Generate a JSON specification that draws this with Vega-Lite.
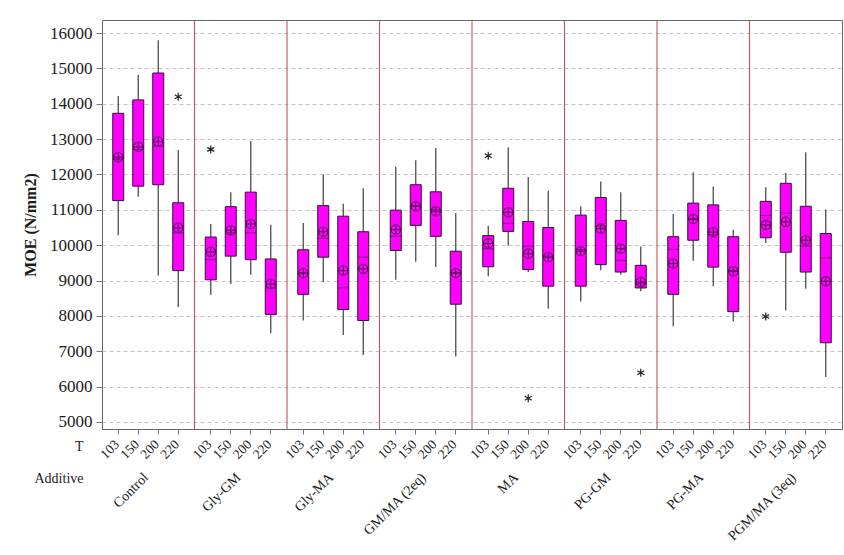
{
  "$schema": "https://vega.github.io/schema/vega-lite/v6.json",
  "width": 740,
  "height": 409,
  "autosize": "none",
  "padding": {"left": 102, "top": 20, "right": 2, "bottom": 126},
  "background": "white",
  "config": {
    "view": {"stroke": "#666666", "strokeWidth": 1},
    "font": "Liberation Serif",
    "axis": {"labelFont": "Liberation Serif", "titleFont": "Liberation Serif", "labelColor": "#1a1a1a", "titleColor": "#1a1a1a"}
  },
  "data": {"values": [
    {"Additive": "Control", "T": 103, "min": 10280, "q1": 11260, "median": 12430, "q3": 13730, "max": 14220, "mean": 12490},
    {"Additive": "Control", "T": 150, "min": 11370, "q1": 11670, "median": 12710, "q3": 14110, "max": 14820, "mean": 12780},
    {"Additive": "Control", "T": 200, "min": 9140, "q1": 11710, "median": 12800, "q3": 14870, "max": 15800, "mean": 12930},
    {"Additive": "Control", "T": 220, "min": 8250, "q1": 9280, "median": 10350, "q3": 11200, "max": 12690, "mean": 10490, "outlier": 14200},
    {"Additive": "Gly-GM", "T": 103, "min": 8600, "q1": 9020, "median": 9590, "q3": 10230, "max": 10600, "mean": 9810, "outlier": 12710},
    {"Additive": "Gly-GM", "T": 150, "min": 8900, "q1": 9690, "median": 10350, "q3": 11090, "max": 11500, "mean": 10420},
    {"Additive": "Gly-GM", "T": 200, "min": 9160, "q1": 9590, "median": 10350, "q3": 11500, "max": 12950, "mean": 10600},
    {"Additive": "Gly-GM", "T": 220, "min": 7510, "q1": 8040, "median": 8790, "q3": 9610, "max": 10580, "mean": 8900},
    {"Additive": "Gly-MA", "T": 103, "min": 7870, "q1": 8610, "median": 9210, "q3": 9870, "max": 10630, "mean": 9210},
    {"Additive": "Gly-MA", "T": 150, "min": 8950, "q1": 9660, "median": 10200, "q3": 11120, "max": 12000, "mean": 10380},
    {"Additive": "Gly-MA", "T": 200, "min": 7460, "q1": 8180, "median": 8790, "q3": 10820, "max": 11170, "mean": 9280},
    {"Additive": "Gly-MA", "T": 220, "min": 6890, "q1": 7870, "median": 9660, "q3": 10380, "max": 11610, "mean": 9330},
    {"Additive": "GM/MA (2eq)", "T": 103, "min": 9020, "q1": 9850, "median": 10250, "q3": 10990, "max": 12220, "mean": 10440},
    {"Additive": "GM/MA (2eq)", "T": 150, "min": 9530, "q1": 10560, "median": 11120, "q3": 11710, "max": 12400, "mean": 11100},
    {"Additive": "GM/MA (2eq)", "T": 200, "min": 9380, "q1": 10250, "median": 11000, "q3": 11510, "max": 12750, "mean": 10960},
    {"Additive": "GM/MA (2eq)", "T": 220, "min": 6850, "q1": 8330, "median": 9220, "q3": 9830, "max": 10910, "mean": 9210},
    {"Additive": "MA", "T": 103, "min": 9120, "q1": 9390, "median": 9900, "q3": 10270, "max": 10550, "mean": 10050, "outlier": 12530},
    {"Additive": "MA", "T": 150, "min": 9990, "q1": 10390, "median": 10610, "q3": 11610, "max": 12770, "mean": 10930},
    {"Additive": "MA", "T": 200, "min": 9240, "q1": 9310, "median": 9970, "q3": 10670, "max": 11930, "mean": 9760, "outlier": 5670},
    {"Additive": "MA", "T": 220, "min": 8200, "q1": 8840, "median": 9690, "q3": 10500, "max": 11540, "mean": 9660},
    {"Additive": "PG-GM", "T": 103, "min": 8410, "q1": 8840, "median": 9880, "q3": 10850, "max": 11100, "mean": 9830},
    {"Additive": "PG-GM", "T": 150, "min": 9290, "q1": 9450, "median": 10540, "q3": 11350, "max": 11800, "mean": 10470},
    {"Additive": "PG-GM", "T": 200, "min": 9170, "q1": 9240, "median": 9570, "q3": 10700, "max": 11500, "mean": 9900},
    {"Additive": "PG-GM", "T": 220, "min": 8700, "q1": 8790, "median": 8910, "q3": 9430, "max": 9960, "mean": 8960, "outlier": 6390},
    {"Additive": "PG-MA", "T": 103, "min": 7710, "q1": 8610, "median": 9880, "q3": 10240, "max": 10880, "mean": 9480},
    {"Additive": "PG-MA", "T": 150, "min": 9560, "q1": 10140, "median": 10740, "q3": 11190, "max": 12060, "mean": 10740},
    {"Additive": "PG-MA", "T": 200, "min": 8840, "q1": 9380, "median": 10300, "q3": 11140, "max": 11660, "mean": 10370},
    {"Additive": "PG-MA", "T": 220, "min": 7840, "q1": 8120, "median": 9280, "q3": 10240, "max": 10440, "mean": 9260},
    {"Additive": "PGM/MA (3eq)", "T": 103, "min": 10060, "q1": 10210, "median": 10840, "q3": 11240, "max": 11640, "mean": 10570, "outlier": 7980},
    {"Additive": "PGM/MA (3eq)", "T": 150, "min": 8150, "q1": 9800, "median": 10910, "q3": 11750, "max": 12040, "mean": 10660},
    {"Additive": "PGM/MA (3eq)", "T": 200, "min": 8770, "q1": 9240, "median": 9970, "q3": 11100, "max": 12630, "mean": 10140},
    {"Additive": "PGM/MA (3eq)", "T": 220, "min": 6270, "q1": 7240, "median": 9640, "q3": 10330, "max": 11010, "mean": 8980}
  ]},
  "layer": [
    {
      "mark": {"type": "rule", "color": "#4d4d4d", "strokeWidth": 1.3},
      "encoding": {
        "x": {"field": "Additive", "type": "nominal",
          "sort": ["Control", "Gly-GM", "Gly-MA", "GM/MA (2eq)", "MA", "PG-GM", "PG-MA", "PGM/MA (3eq)"],
          "scale": {"paddingInner": 0, "paddingOuter": 0},
          "axis": {"orient": "bottom", "bandPosition": 0.39189, "labelOffset": -11, "labelExpr": "'150'", "title": null, "labelAngle": -45, "labelAlign": "right", "labelBaseline": "middle", "labelFont": "Liberation Serif", "labelFontSize": 13.5, "labelColor": "#1a1a1a", "labelPadding": 8, "labelOverlap": false, "tickSize": 5, "tickColor": "#777777", "domain": false, "grid": false}},
        "xOffset": {"field": "T", "type": "ordinal", "scale": {"paddingInner": 0.45, "paddingOuter": 0.5375}},
        "y": {"field": "min", "type": "quantitative",
          "scale": {"domain": [4800, 16370], "nice": false, "zero": false},
          "axis": {"title": "MOE (N/mm2)", "values": [5000, 6000, 7000, 8000, 9000, 10000, 11000, 12000, 13000, 14000, 15000, 16000], "format": "d", "grid": true, "gridDash": [4, 3], "gridColor": "#c4c4c4", "gridWidth": 1, "domain": false, "tickSize": 6, "tickColor": "#777777", "labelFont": "Liberation Serif", "labelFontSize": 17, "labelColor": "#1a1a1a", "labelPadding": 4, "labelOverlap": false, "titleFont": "Liberation Serif", "titleFontSize": 16, "titleFontWeight": "bold", "titleColor": "#1a1a1a", "titlePadding": 11}},
        "y2": {"field": "max"}
      }
    },
    {
      "mark": {"type": "bar", "fill": "#ff00ff", "stroke": "#3d0a3d", "strokeWidth": 1},
      "encoding": {
        "x": {"field": "Additive", "type": "nominal",
          "sort": ["Control", "Gly-GM", "Gly-MA", "GM/MA (2eq)", "MA", "PG-GM", "PG-MA", "PGM/MA (3eq)"],
          "axis": {"orient": "bottom", "bandPosition": 0.60811, "labelOffset": 9, "labelExpr": "'200'", "title": null, "labelAngle": -45, "labelAlign": "right", "labelBaseline": "middle", "labelFont": "Liberation Serif", "labelFontSize": 13.5, "labelColor": "#1a1a1a", "labelPadding": 8, "labelOverlap": false, "tickSize": 5, "tickColor": "#777777", "domain": false, "grid": false}},
        "xOffset": {"field": "T", "type": "ordinal"},
        "y": {"field": "q1", "type": "quantitative",
          "axis": {"title": "MOE (N/mm2)", "values": [5000, 6000, 7000, 8000, 9000, 10000, 11000, 12000, 13000, 14000, 15000, 16000], "format": "d", "grid": true, "gridDash": [4, 3], "gridColor": "#c4c4c4", "gridWidth": 1, "domain": false, "tickSize": 6, "tickColor": "#777777", "labelFont": "Liberation Serif", "labelFontSize": 17, "labelColor": "#1a1a1a", "labelPadding": 4, "labelOverlap": false, "titleFont": "Liberation Serif", "titleFontSize": 16, "titleFontWeight": "bold", "titleColor": "#1a1a1a", "titlePadding": 11}},
        "y2": {"field": "q3"}
      }
    },
    {
      "mark": {"type": "tick", "color": "#4a0d4a", "thickness": 1, "size": 11},
      "encoding": {
        "x": {"field": "Additive", "type": "nominal",
          "sort": ["Control", "Gly-GM", "Gly-MA", "GM/MA (2eq)", "MA", "PG-GM", "PG-MA", "PGM/MA (3eq)"],
          "axis": {"orient": "bottom", "bandPosition": 0.82432, "labelOffset": 29, "labelExpr": "'220'", "title": null, "labelAngle": -45, "labelAlign": "right", "labelBaseline": "middle", "labelFont": "Liberation Serif", "labelFontSize": 13.5, "labelColor": "#1a1a1a", "labelPadding": 8, "labelOverlap": false, "tickSize": 5, "tickColor": "#777777", "domain": false, "grid": false}},
        "xOffset": {"field": "T", "type": "ordinal"},
        "y": {"field": "median", "type": "quantitative",
          "axis": {"title": "MOE (N/mm2)", "values": [5000, 6000, 7000, 8000, 9000, 10000, 11000, 12000, 13000, 14000, 15000, 16000], "format": "d", "grid": true, "gridDash": [4, 3], "gridColor": "#c4c4c4", "gridWidth": 1, "domain": false, "tickSize": 6, "tickColor": "#777777", "labelFont": "Liberation Serif", "labelFontSize": 17, "labelColor": "#1a1a1a", "labelPadding": 4, "labelOverlap": false, "titleFont": "Liberation Serif", "titleFontSize": 16, "titleFontWeight": "bold", "titleColor": "#1a1a1a", "titlePadding": 11}}
      }
    },
    {
      "mark": {"type": "point", "shape": "M-1,0A1,1 0 1,1 1,0A1,1 0 1,1 -1,0ZM-1,0L1,0M0,-1L0,1", "size": 90, "filled": false, "stroke": "#4a0d4a", "strokeWidth": 1, "opacity": 1},
      "encoding": {
        "x": {"field": "Additive", "type": "nominal",
          "sort": ["Control", "Gly-GM", "Gly-MA", "GM/MA (2eq)", "MA", "PG-GM", "PG-MA", "PGM/MA (3eq)"],
          "axis": {"orient": "bottom", "ticks": false, "domain": false, "grid": false, "labelAngle": -45, "labelAlign": "right", "labelBaseline": "middle", "labelFont": "Liberation Serif", "labelFontSize": 14, "labelColor": "#1a1a1a", "labelPadding": 46, "labelOffset": -2, "labelOverlap": false, "title": "Additive", "titleX": -19, "titleY": 49, "titleAlign": "right", "titleAngle": 0, "titleBaseline": "middle", "titleFont": "Liberation Serif", "titleFontSize": 14, "titleFontWeight": "normal", "titleColor": "#1a1a1a"}},
        "xOffset": {"field": "T", "type": "ordinal"},
        "y": {"field": "mean", "type": "quantitative",
          "axis": {"title": "MOE (N/mm2)", "values": [5000, 6000, 7000, 8000, 9000, 10000, 11000, 12000, 13000, 14000, 15000, 16000], "format": "d", "grid": true, "gridDash": [4, 3], "gridColor": "#c4c4c4", "gridWidth": 1, "domain": false, "tickSize": 6, "tickColor": "#777777", "labelFont": "Liberation Serif", "labelFontSize": 17, "labelColor": "#1a1a1a", "labelPadding": 4, "labelOverlap": false, "titleFont": "Liberation Serif", "titleFontSize": 16, "titleFontWeight": "bold", "titleColor": "#1a1a1a", "titlePadding": 11}}
      }
    },
    {
      "transform": [{"filter": "isValid(datum.outlier)"}],
      "mark": {"type": "point", "shape": "M0,-1L0,1M-0.87,-0.5L0.87,0.5M-0.87,0.5L0.87,-0.5", "size": 64, "filled": false, "stroke": "#222222", "strokeWidth": 1.2, "opacity": 1},
      "encoding": {
        "x": {"field": "Additive", "type": "nominal",
          "sort": ["Control", "Gly-GM", "Gly-MA", "GM/MA (2eq)", "MA", "PG-GM", "PG-MA", "PGM/MA (3eq)"],
          "axis": null},
        "xOffset": {"field": "T", "type": "ordinal"},
        "y": {"field": "outlier", "type": "quantitative",
          "axis": {"title": "MOE (N/mm2)", "values": [5000, 6000, 7000, 8000, 9000, 10000, 11000, 12000, 13000, 14000, 15000, 16000], "format": "d", "grid": true, "gridDash": [4, 3], "gridColor": "#c4c4c4", "gridWidth": 1, "domain": false, "tickSize": 6, "tickColor": "#777777", "labelFont": "Liberation Serif", "labelFontSize": 17, "labelColor": "#1a1a1a", "labelPadding": 4, "labelOverlap": false, "titleFont": "Liberation Serif", "titleFontSize": 16, "titleFontWeight": "bold", "titleColor": "#1a1a1a", "titlePadding": 11}}
      }
    },
    {
      "transform": [{"filter": "datum.T == 103 && datum.Additive != 'Control'"}],
      "mark": {"type": "rule", "color": "#c8505e", "strokeWidth": 1.1},
      "encoding": {
        "x": {"field": "Additive", "type": "nominal", "bandPosition": 0,
          "sort": ["Control", "Gly-GM", "Gly-MA", "GM/MA (2eq)", "MA", "PG-GM", "PG-MA", "PGM/MA (3eq)"],
          "axis": {"orient": "bottom", "bandPosition": 0.17568, "labelOffset": -31, "labelExpr": "'103'", "title": "T", "titleX": -19, "titleY": 17, "titleAlign": "right", "titleAngle": 0, "titleBaseline": "middle", "titleFont": "Liberation Serif", "titleFontSize": 14, "titleFontWeight": "normal", "titleColor": "#1a1a1a", "labelAngle": -45, "labelAlign": "right", "labelBaseline": "middle", "labelFont": "Liberation Serif", "labelFontSize": 13.5, "labelColor": "#1a1a1a", "labelPadding": 8, "labelOverlap": false, "tickSize": 5, "tickColor": "#777777", "domain": false, "grid": false}}
      }
    }
  ],
  "resolve": {"axis": {"x": "independent"}}
}
